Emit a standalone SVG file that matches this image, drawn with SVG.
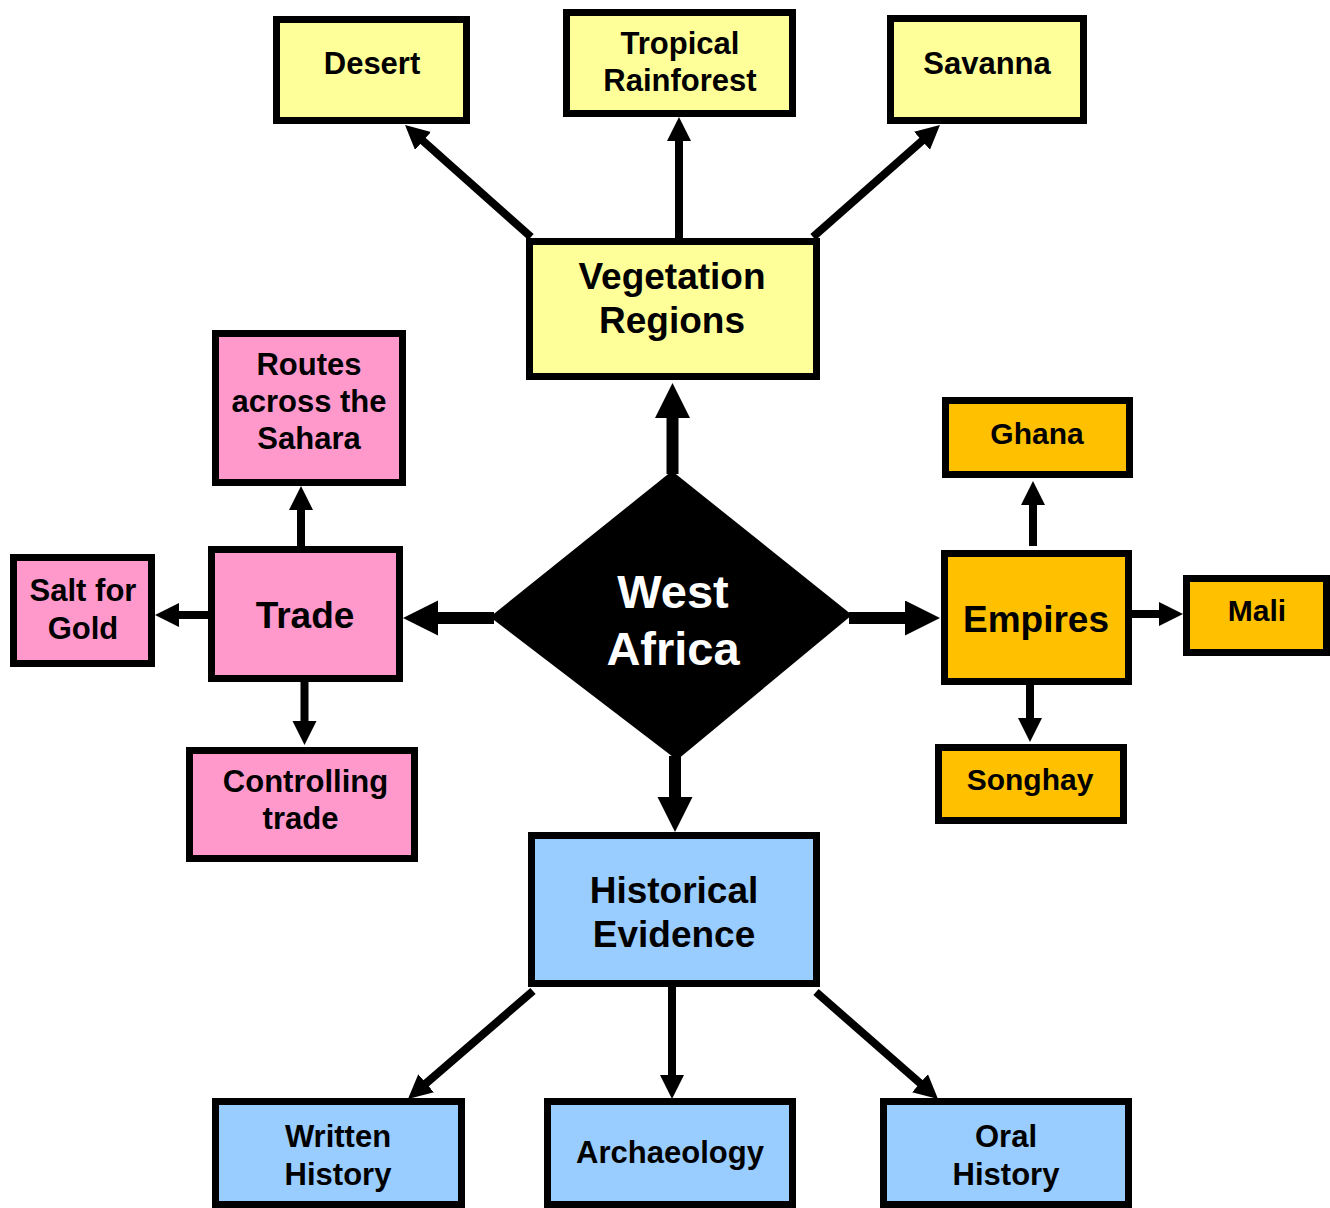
<svg xmlns="http://www.w3.org/2000/svg" width="1330" height="1208" viewBox="0 0 1330 1208">
<style>
.box{stroke:#000;stroke-width:7}
.yel{fill:#FFFF99}
.pnk{fill:#FF99CC}
.org{fill:#FFC000}
.blu{fill:#99CCFF}
text{font-family:"Liberation Sans",Arial,sans-serif;font-weight:bold;text-anchor:middle;fill:#000}
.t31{font-size:31px}
.t30{font-size:30px}
.t37{font-size:37px}
.t47{font-size:47px;fill:#fff}
.c{stroke:#000;stroke-width:8;fill:none}
.cm{marker-end:url(#ah)}
.cb{stroke:#000;stroke-width:12;fill:none;marker-end:url(#ahb)}
</style>
<defs>
<marker id="ah" markerUnits="userSpaceOnUse" markerWidth="26" markerHeight="26" refX="4" refY="12" orient="auto">
<path d="M0,0 L24,12 L0,24 Z" fill="#000"/>
</marker>
<marker id="ahb" markerUnits="userSpaceOnUse" markerWidth="36" markerHeight="36" refX="5" refY="17.5" orient="auto">
<path d="M0,0 L35,17.5 L0,35 Z" fill="#000"/>
</marker>
</defs>
<rect width="1330" height="1208" fill="#fff"/>
<g id="connectors">
<line class="c cm" x1="531" y1="237" x2="420" y2="138.3"/>
<line class="c cm" x1="679" y1="238" x2="679" y2="137"/>
<line class="c cm" x1="813" y1="237" x2="925" y2="138.2"/>
<line class="cb" x1="672.5" y1="474" x2="672.5" y2="413"/>
<line class="cb" x1="494" y1="618" x2="433" y2="618"/>
<line class="cb" x1="849" y1="618" x2="910" y2="618"/>
<line class="cb" x1="675" y1="756" x2="675" y2="802"/>
<line class="c cm" x1="301" y1="546" x2="301" y2="506"/>
<line class="c cm" x1="208" y1="615" x2="175" y2="615"/>
<line class="c cm" x1="304.5" y1="682" x2="304.5" y2="725"/>
<line class="c cm" x1="1033" y1="546" x2="1033" y2="501"/>
<line class="c cm" x1="1124" y1="614" x2="1163" y2="614"/>
<line class="c cm" x1="1030" y1="681" x2="1030" y2="722"/>
<line class="c cm" x1="533" y1="991" x2="423.1" y2="1085.9"/>
<line class="c cm" x1="672" y1="987" x2="672" y2="1079"/>
<line class="c cm" x1="816" y1="992" x2="923" y2="1085.8"/>
</g>
<g id="desert"><rect class="box yel" x="276.5" y="19.5" width="190" height="101"/><text class="t31" x="372" y="74">Desert</text></g>
<g id="tropical-rainforest"><rect class="box yel" x="566.5" y="12.5" width="226" height="101"/><text class="t31" x="680" y="54">Tropical</text><text class="t31" x="680" y="91">Rainforest</text></g>
<g id="savanna"><rect class="box yel" x="890.5" y="18.5" width="193" height="102"/><text class="t31" x="987" y="74">Savanna</text></g>
<g id="vegetation-regions"><rect class="box yel" x="529.5" y="241.5" width="287" height="135"/><text class="t37" x="672" y="289">Vegetation</text><text class="t37" x="672" y="333">Regions</text></g>
<g id="west-africa"><polygon points="672,471 852,615 677,760 490,617" fill="#000"/><text class="t47" x="673" y="608">West</text><text class="t47" x="673" y="665">Africa</text></g>
<g id="trade"><rect class="box pnk" x="211.5" y="549.5" width="188" height="129"/><text class="t37" x="305" y="628">Trade</text></g>
<g id="routes"><rect class="box pnk" x="215.5" y="333.5" width="187" height="149"/><text class="t31" x="309" y="375">Routes</text><text class="t31" x="309" y="412">across the</text><text class="t31" x="309" y="449">Sahara</text></g>
<g id="salt-for-gold"><rect class="box pnk" x="13.5" y="557.5" width="138" height="106"/><text class="t31" x="83" y="601">Salt for</text><text class="t31" x="83" y="639">Gold</text></g>
<g id="controlling-trade"><rect class="box pnk" x="189.5" y="750.5" width="225" height="108"/><text class="t31" x="305.5" y="792">Controlling</text><text class="t31" x="300.5" y="829">trade</text></g>
<g id="empires"><rect class="box org" x="944.5" y="553.5" width="184" height="128"/><text class="t37" x="1036" y="632">Empires</text></g>
<g id="ghana"><rect class="box org" x="945.5" y="400.5" width="184" height="74"/><text class="t30" x="1037" y="444">Ghana</text></g>
<g id="mali"><rect class="box org" x="1186.5" y="578.5" width="140" height="74"/><text class="t30" x="1257" y="621">Mali</text></g>
<g id="songhay"><rect class="box org" x="938.5" y="747.5" width="185" height="73"/><text class="t30" x="1030" y="790">Songhay</text></g>
<g id="historical-evidence"><rect class="box blu" x="531.5" y="835.5" width="285" height="148"/><text class="t37" x="674" y="903">Historical</text><text class="t37" x="674" y="947">Evidence</text></g>
<g id="written-history"><rect class="box blu" x="215.5" y="1101.5" width="246" height="103"/><text class="t31" x="338" y="1147">Written</text><text class="t31" x="338" y="1185">History</text></g>
<g id="archaeology"><rect class="box blu" x="547.5" y="1101.5" width="245" height="103"/><text class="t31" x="670" y="1163">Archaeology</text></g>
<g id="oral-history"><rect class="box blu" x="883.5" y="1101.5" width="245" height="103"/><text class="t31" x="1006" y="1147">Oral</text><text class="t31" x="1006" y="1185">History</text></g>
</svg>
